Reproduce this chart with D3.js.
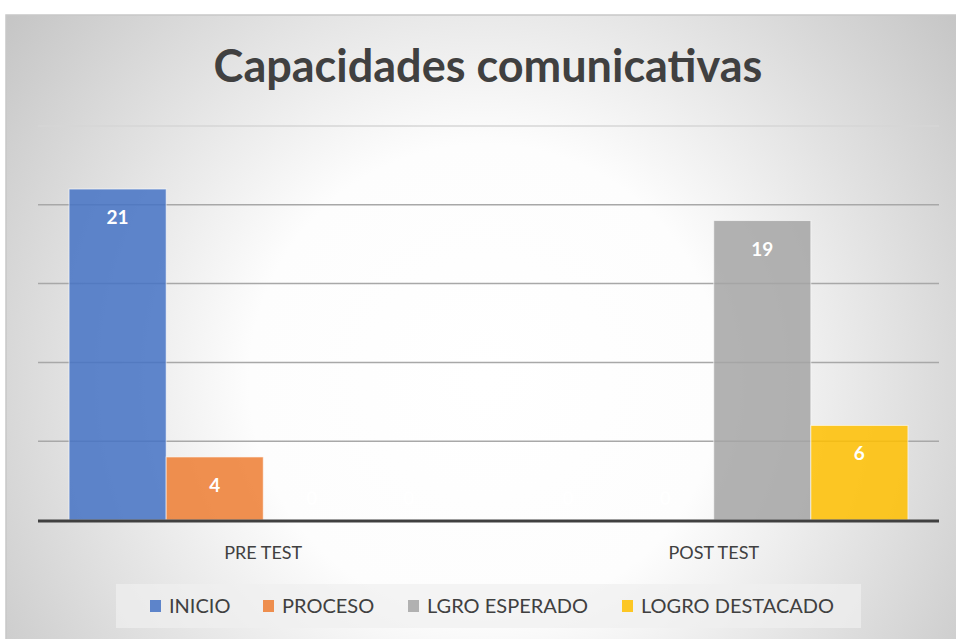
<!DOCTYPE html>
<html>
<head>
<meta charset="utf-8">
<script src="https://cdn.jsdelivr.net/npm/d3@7"></script>
<style>
  body { margin: 0; background: #ffffff; }
  #chart { width: 956px; height: 639px; }
  text { font-family: Lato, "Open Sans", sans-serif; }
</style>
</head>
<body>
<div id="chart"></div>
<script>

// data
const groups = ["PRE TEST", "POST TEST"];
const seriesNames = ["INICIO", "PROCESO", "LGRO ESPERADO", "LOGRO DESTACADO"];
const seriesColors = ["#4472c4", "#ed7d31", "#a5a5a5", "#ffc000"];
const preTest = [21, 4, 0, 0];
const postTest = [0, 0, 19, 6];
const yTicks = [0, 5, 10, 15, 20, 25];

const width = 956;
const height = 639;

const svg = d3.select("#chart")
    .append("svg")
    .attr("width", width)
    .attr("height", height);

// background gradient like the office chart style
const defs = svg.append("defs");
const grad = defs.append("radialGradient")
    .attr("id", "bg")
    .attr("gradientUnits", "userSpaceOnUse")
    .attr("cx", 485).attr("cy", 380).attr("r", 620);
grad.append("stop").attr("offset", "0%").attr("stop-color", "#ffffff");
grad.append("stop").attr("offset", "38%").attr("stop-color", "#fdfdfd");
grad.append("stop").attr("offset", "100%").attr("stop-color", "#c2c2c2");

svg.append("rect")
    .attr("x", 6).attr("y", 15)
    .attr("width", width).attr("height", height)
    .attr("fill", "url(#bg)")
    .attr("stroke", "#c8c8c8")
    .attr("stroke-width", 1.5);

const margin = { top: 126, left: 38, right: 17, bottom: 119 };

const x0 = d3.scaleBand()
    .domain(groups)
    .range([margin.left, width - margin.right]);

const x1 = d3.scaleBand()
    .domain(seriesNames)
    .range([0, x0.bandwidth()])
    .paddingOuter(0.32)
    .paddingInner(0);

const y = d3.scaleLinear()
    .domain([0, 25])
    .range([height - margin.bottom, margin.top]);

// gridlines
svg.append("g")
    .selectAll("line")
    .data(yTicks.slice(1))
    .enter()
    .append("line")
        .attr("x1", margin.left)
        .attr("x2", width - margin.right)
        .attr("y1", function(d) { return y(d); })
        .attr("y2", function(d) { return y(d); })
        .attr("stroke", function(d) { return d === 25 ? "#d6d6d6" : "#a8a8a8"; })
        .attr("stroke-width", 1.5);

const table = groups.map(function(g, i) {
    const vals = i === 0 ? preTest : postTest;
    return seriesNames.map(function(s, j) {
        return { group: g, series: s, value: vals[j], color: seriesColors[j] };
    });
});

const groupG = svg.selectAll(".group")
    .data(table)
    .enter()
    .append("g")
        .attr("class", "group")
        .attr("transform", function(d, i) { return "translate(" + x0(groups[i]) + ",0)"; });

groupG.selectAll("rect")
    .data(function(d) { return d; })
    .enter()
    .append("rect")
        .attr("x", function(d) { return x1(d.series); })
        .attr("y", function(d) { return y(d.value); })
        .attr("width", x1.bandwidth())
        .attr("height", function(d) { return y(0) - y(d.value); })
        .attr("fill", function(d) { return d.color; })
        .attr("fill-opacity", 0.85)
        .attr("stroke", "#ffffff")
        .attr("stroke-opacity", 0.6)
        .attr("stroke-width", 1);

groupG.selectAll(".lbl")
    .data(function(d) { return d; })
    .enter()
    .append("text")
        .attr("class", "lbl")
        .attr("x", function(d) { return x1(d.series) + x1.bandwidth() / 2; })
        .attr("y", function(d) { return y(d.value) + 35; })
        .attr("text-anchor", "middle")
        .attr("fill", "#ffffff")
        .attr("font-size", 19)
        .attr("font-weight", "bold")
        .text(function(d) { return d.value; })
        .filter(function(d) { return d.value === 0; })
        .attr("y", y(0) - 15);

// baseline
svg.append("line")
    .attr("x1", margin.left)
    .attr("x2", width - margin.right)
    .attr("y1", y(0) + 1)
    .attr("y2", y(0) + 1)
    .attr("stroke", "#404040")
    .attr("stroke-width", 3);

// category labels
svg.append("g")
    .selectAll("text")
    .data(groups)
    .enter()
    .append("text")
        .attr("x", function(d) { return x0(d) + x0.bandwidth() / 2; })
        .attr("y", y(0) + 39)
        .attr("text-anchor", "middle")
        .attr("fill", "#404040")
        .attr("font-size", 18)
        .text(function(d) { return d; });

// title
svg.append("text")
    .attr("x", 488)
    .attr("y", 82)
    .attr("text-anchor", "middle")
    .attr("fill", "#404040")
    .attr("font-size", 45)
    .attr("font-weight", "bold")
    .text("Capacidades comunicativas");

// legend
svg.append("rect")
    .attr("x", 116).attr("y", 584)
    .attr("width", 745).attr("height", 44)
    .attr("fill", "#f0f0f0")
    .attr("fill-opacity", 0.7);

const legendX = [150, 263, 408, 622];
const legend = svg.selectAll(".legend")
    .data(seriesNames)
    .enter()
    .append("g")
        .attr("class", "legend")
        .attr("transform", function(d, i) { return "translate(" + legendX[i] + ",606)"; });

legend.append("rect")
    .attr("x", 0).attr("y", -6)
    .attr("width", 11).attr("height", 12)
    .attr("fill", function(d, i) { return seriesColors[i]; })
    .attr("fill-opacity", 0.85);

legend.append("text")
    .attr("x", 19)
    .attr("y", 7)
    .attr("fill", "#404040")
    .attr("font-size", 20)
    .text(function(d) { return d; });

</script>
</body>
</html>
